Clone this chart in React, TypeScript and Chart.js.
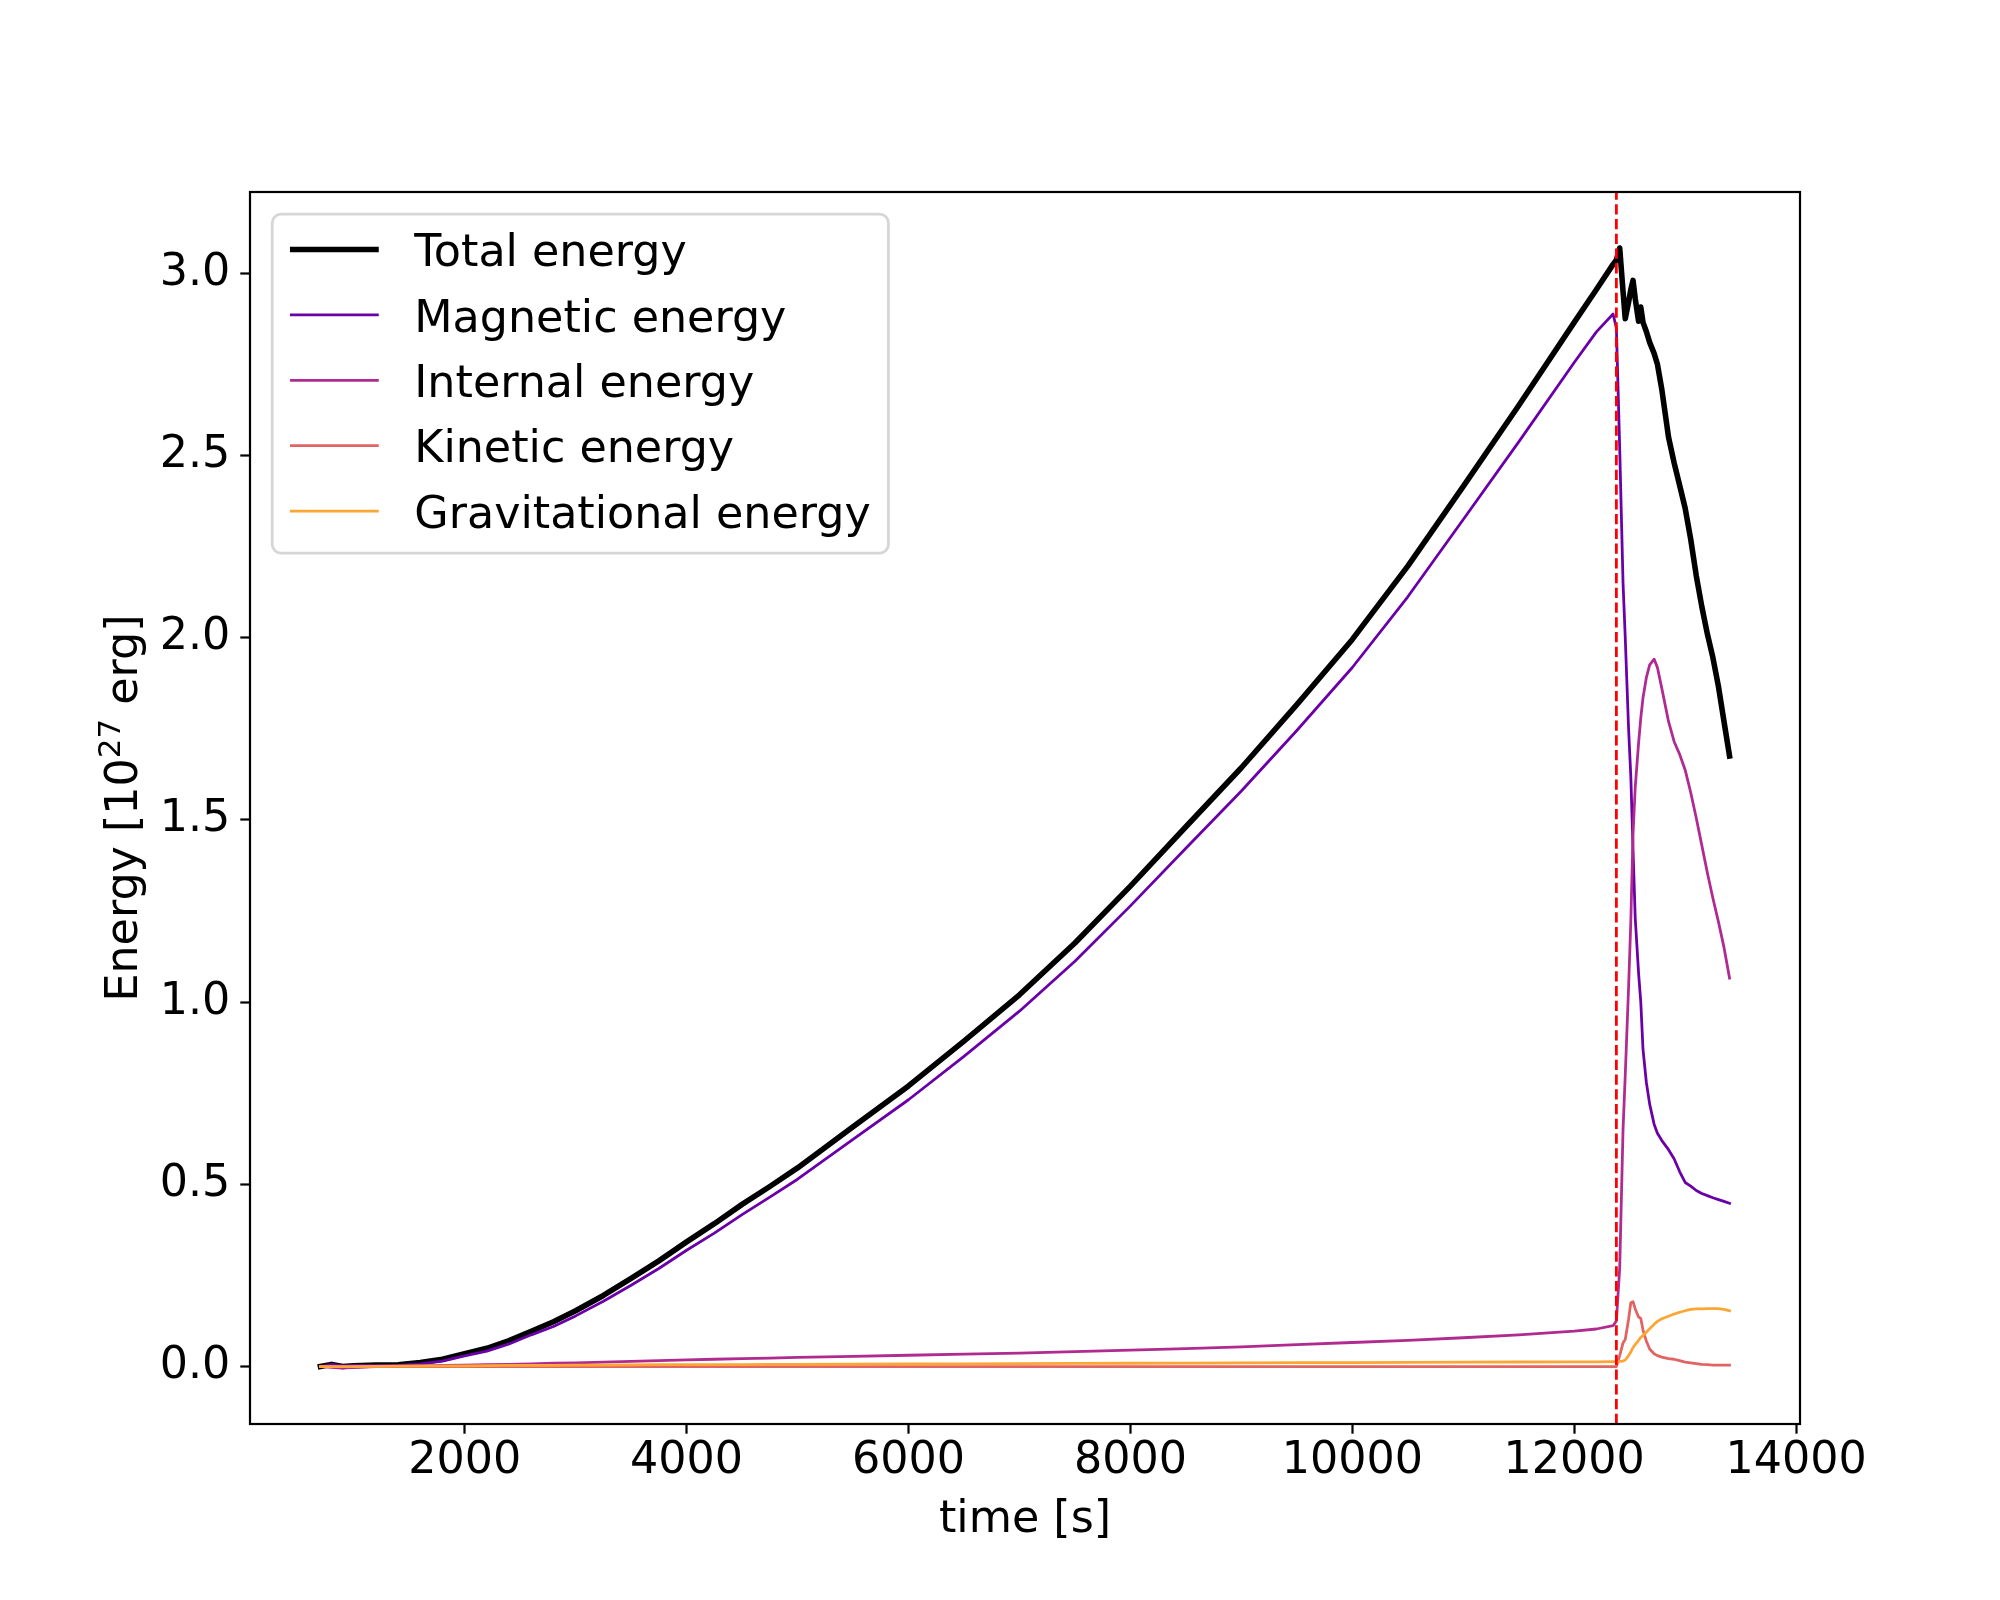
import { useEffect, useRef } from "react";
import { Chart, registerables, Plugin } from "chart.js";

Chart.register(...registerables);

// simulation output times [s]
const TIME = [
  700, 800, 900, 1000, 1200, 1400, 1600, 1800, 2000, 2200, 2400, 2600, 2800,
  3000, 3250, 3500, 3750, 4000, 4250, 4500, 4750, 5000, 5500, 6000, 6500,
  7000, 7500, 8000, 8500, 9000, 9500, 10000, 10500, 11000, 11500, 12000,
  12200, 12350, 12380,
  12410, 12440, 12460, 12490, 12510, 12530, 12550, 12580, 12600, 12620,
  12650, 12680, 12720, 12750, 12790, 12850, 12900, 12950, 13000, 13050,
  13100, 13150, 13200, 13250, 13300, 13350, 13400,
];

// energies in units of 1e27 erg
const TOTAL = [
  0.0, 0.006, 0.0, 0.002, 0.004, 0.005, 0.011, 0.02, 0.035, 0.05, 0.071,
  0.097, 0.123, 0.153, 0.195, 0.242, 0.29, 0.342, 0.392, 0.445, 0.494, 0.545,
  0.658, 0.77, 0.893, 1.02, 1.162, 1.318, 1.481, 1.643, 1.816, 1.995, 2.196,
  2.415, 2.637, 2.865, 2.955, 3.024, 3.036,
  3.069, 2.95, 2.875, 2.92, 2.955, 2.98, 2.93, 2.868, 2.907, 2.865, 2.84,
  2.81, 2.78, 2.75, 2.68, 2.55, 2.48, 2.418, 2.355, 2.27, 2.17, 2.085, 2.01,
  1.945, 1.866, 1.77, 1.675,
];

const MAGNETIC = [
  0.0, 0.006, 0.002, 0.003, 0.0035, 0.003, 0.0075, 0.015, 0.029, 0.0425,
  0.062, 0.087, 0.11, 0.139, 0.179, 0.223, 0.269, 0.319, 0.366, 0.417, 0.465,
  0.514, 0.623, 0.732, 0.851, 0.975, 1.112, 1.264, 1.422, 1.579, 1.745, 1.918,
  2.112, 2.324, 2.537, 2.755, 2.839, 2.888, 2.85,
  2.52, 2.15, 2.0, 1.75, 1.62, 1.42, 1.23, 1.08, 1.0, 0.87, 0.78, 0.72,
  0.665, 0.64, 0.62, 0.595, 0.57, 0.535, 0.505, 0.495, 0.483, 0.475, 0.469,
  0.463, 0.458, 0.453, 0.448,
];

const INTERNAL = [
  0.0, -0.002, -0.004, -0.002, 0.0, 0.001, 0.002, 0.003, 0.004, 0.005, 0.006,
  0.007, 0.009, 0.01, 0.012, 0.014, 0.016, 0.018, 0.02, 0.022, 0.023, 0.025,
  0.028, 0.031, 0.034, 0.037, 0.041, 0.045, 0.049, 0.054, 0.06, 0.066, 0.072,
  0.079, 0.087, 0.097, 0.103, 0.112, 0.125,
  0.27, 0.65, 0.8, 1.04, 1.22, 1.46, 1.59, 1.71, 1.78, 1.835, 1.89, 1.925,
  1.941, 1.918, 1.86, 1.77, 1.715, 1.68, 1.637, 1.575, 1.505, 1.43, 1.355,
  1.285, 1.22, 1.15, 1.066,
];

const KINETIC = [
  0.0, 0.0, 0.0, 0.0, 0.0, 0.0, 0.0, 0.0, 0.0, 0.0, 0.0, 0.0, 0.0, 0.0, 0.0,
  0.0, 0.0, 0.0, 0.0, 0.0, 0.0, 0.0, 0.0, 0.0, 0.0, 0.0, 0.0, 0.0, 0.0, 0.0,
  0.0, 0.0, 0.0, 0.0, 0.0, 0.0, 0.0, 0.0, 0.0,
  0.03, 0.065, 0.074, 0.13, 0.175, 0.178, 0.158, 0.136, 0.132, 0.1, 0.07,
  0.048, 0.035, 0.03, 0.026, 0.022, 0.02, 0.016, 0.012, 0.01, 0.008, 0.006,
  0.005, 0.004, 0.004, 0.004, 0.004,
];

const GRAVITATIONAL = [
  0.0, 0.0, 0.0, 0.0, 0.0005, 0.001, 0.0015, 0.002, 0.002, 0.0025, 0.003,
  0.003, 0.0035, 0.004, 0.004, 0.0045, 0.005, 0.005, 0.0055, 0.0055, 0.006,
  0.006, 0.0065, 0.007, 0.0075, 0.008, 0.0085, 0.009, 0.0095, 0.01, 0.0105,
  0.011, 0.0115, 0.012, 0.0125, 0.013, 0.013, 0.0135, 0.0135,
  0.014, 0.015, 0.018, 0.03, 0.04, 0.052, 0.06, 0.072, 0.08, 0.085, 0.094,
  0.104, 0.116, 0.124, 0.131, 0.138, 0.144, 0.149, 0.153, 0.157, 0.158,
  0.158, 0.159, 0.159, 0.159, 0.157, 0.153,
];

const SERIES_LABELS = [
  "Total energy",
  "Magnetic energy",
  "Internal energy",
  "Kinetic energy",
  "Gravitational energy",
];
const SERIES_COLORS = ["#000000", "#6a00a8", "#b12a90", "#e16462", "#fca636"];
const SERIES_WIDTHS = [5.56, 2.78, 2.78, 2.78, 2.78];

const X_TICKS = [2000, 4000, 6000, 8000, 10000, 12000, 14000];
const Y_TICKS = [0, 0.5, 1.0, 1.5, 2.0, 2.5, 3.0];
const FLARE_TIME = 12380;

const X_TITLE = "time [s]";
const Y_TITLE = ["Energy [10", "27", " erg]"];

const FONT_PX = 44.4;
const SUP_PX = 31;
const FONT_FAMILY = '"DejaVu Sans", sans-serif';

const SERIES = [TOTAL, MAGNETIC, INTERNAL, KINETIC, GRAVITATIONAL];

// autoscale with 5% margins, like matplotlib
const xLo = Math.min(...TIME);
const xHi = Math.max(...TIME);
const X_MIN = xLo - 0.05 * (xHi - xLo);
const X_MAX = xHi + 0.05 * (xHi - xLo);
const allY = SERIES.flat();
const yLo = Math.min(...allY);
const yHi = Math.max(...allY);
const Y_MIN = yLo - 0.05 * (yHi - yLo);
const Y_MAX = yHi + 0.05 * (yHi - yLo);

const framePlugin: Plugin<"line"> = {
  id: "frame",
  afterDatasetsDraw(chart) {
    const { ctx, chartArea: a } = chart;
    ctx.save();
    ctx.strokeStyle = "#000";
    ctx.lineWidth = 2.2;
    ctx.strokeRect(a.left, a.top, a.right - a.left, a.bottom - a.top);
    ctx.restore();
  },
};

const titlesPlugin: Plugin<"line"> = {
  id: "axisTitles",
  afterDraw(chart) {
    const { ctx, chartArea: a } = chart;
    ctx.save();
    ctx.fillStyle = "#000";
    ctx.textBaseline = "alphabetic";
    ctx.font = `${FONT_PX}px ${FONT_FAMILY}`;
    ctx.textAlign = "center";
    ctx.fillText(X_TITLE, (a.left + a.right) / 2, a.bottom + 108);

    // y title with a superscript exponent
    ctx.translate(a.left - 113, (a.top + a.bottom) / 2);
    ctx.rotate(-Math.PI / 2);
    ctx.textAlign = "left";
    const fonts = Y_TITLE.map((_, i) =>
      i === 1 ? `${SUP_PX}px ${FONT_FAMILY}` : `${FONT_PX}px ${FONT_FAMILY}`
    );
    const widths = Y_TITLE.map((t, i) => {
      ctx.font = fonts[i];
      return ctx.measureText(t).width;
    });
    let x = -widths.reduce((s, w) => s + w, 0) / 2;
    Y_TITLE.forEach((t, i) => {
      ctx.font = fonts[i];
      ctx.fillText(t, x, i === 1 ? -17 : 0);
      x += widths[i];
    });
    ctx.restore();
  },
};

const legendPlugin: Plugin<"line"> = {
  id: "legendBox",
  afterDraw(chart) {
    const { ctx, chartArea: a } = chart;
    const pad = 0.4 * FONT_PX;
    const handle = 2 * FONT_PX;
    const gap = 0.8 * FONT_PX;
    const step = 65.4;
    const left = a.left + 0.5 * FONT_PX;
    const top = a.top + 0.5 * FONT_PX;
    ctx.save();
    ctx.font = `${FONT_PX}px ${FONT_FAMILY}`;
    const textW = Math.max(...SERIES_LABELS.map((l) => ctx.measureText(l).width));
    const w = pad + handle + gap + textW + pad;
    const h = 339;

    ctx.beginPath();
    ctx.roundRect(left, top, w, h, 0.2 * FONT_PX);
    ctx.fillStyle = "rgba(255,255,255,0.8)";
    ctx.fill();
    ctx.strokeStyle = "rgba(204,204,204,0.8)";
    ctx.lineWidth = 2.78;
    ctx.stroke();

    SERIES_LABELS.forEach((label, i) => {
      const yLine = top + 35.3 + i * step;
      ctx.beginPath();
      ctx.moveTo(left + pad, yLine);
      ctx.lineTo(left + pad + handle, yLine);
      ctx.strokeStyle = SERIES_COLORS[i];
      ctx.lineWidth = SERIES_WIDTHS[i];
      ctx.lineCap = "butt";
      ctx.stroke();
      ctx.fillStyle = "#000";
      ctx.textAlign = "left";
      ctx.textBaseline = "alphabetic";
      ctx.fillText(label, left + pad + handle + gap, top + 52 + i * step);
    });
    ctx.restore();
  },
};

const tickFont = { family: FONT_FAMILY, size: FONT_PX };

export default function App() {
  const canvasRef = useRef<HTMLCanvasElement | null>(null);
  const chartRef = useRef<Chart<"line"> | null>(null);

  useEffect(() => {
    document.body.style.margin = "0";
    if (!canvasRef.current) return;
    if (chartRef.current) chartRef.current.destroy();

    const datasets: any[] = SERIES.map((values, i) => ({
      label: SERIES_LABELS[i],
      data: TIME.map((t, j) => ({ x: t, y: values[j] })),
      borderColor: SERIES_COLORS[i],
      borderWidth: SERIES_WIDTHS[i],
      borderJoinStyle: "round",
      borderCapStyle: "square",
      pointRadius: 0,
      tension: 0,
      fill: false,
      order: SERIES.length - i,
    }));
    datasets.push({
      label: "flare",
      data: [
        { x: FLARE_TIME, y: Y_MIN },
        { x: FLARE_TIME, y: Y_MAX },
      ],
      borderColor: "#ff0000",
      borderWidth: 2.78,
      borderDash: [10.3, 4.45],
      borderCapStyle: "butt",
      pointRadius: 0,
      fill: false,
      order: 0,
    });

    chartRef.current = new Chart(canvasRef.current, {
      type: "line",
      data: { datasets },
      options: {
        responsive: false,
        animation: false,
        layout: { padding: { left: 0, right: 200, top: 192, bottom: 0 } },
        plugins: {
          legend: { display: false },
          tooltip: { enabled: false },
        },
        scales: {
          x: {
            type: "linear",
            min: X_MIN,
            max: X_MAX,
            afterBuildTicks: (scale) => {
              scale.ticks = X_TICKS.map((v) => ({ value: v }));
            },
            afterFit: (scale) => {
              scale.height = 176;
            },
            ticks: {
              callback: (v) => String(v),
              font: tickFont,
              color: "#000",
              padding: 1,
              maxRotation: 0,
              autoSkip: false,
            },
            grid: {
              display: true,
              drawOnChartArea: false,
              drawTicks: true,
              tickLength: 9.7,
              tickWidth: 2.2,
              tickColor: "#000",
            },
            border: { display: false },
          },
          y: {
            type: "linear",
            min: Y_MIN,
            max: Y_MAX,
            afterBuildTicks: (scale) => {
              scale.ticks = Y_TICKS.map((v) => ({ value: v }));
            },
            afterFit: (scale) => {
              scale.width = 250;
            },
            ticks: {
              callback: (v) => Number(v).toFixed(1),
              font: tickFont,
              color: "#000",
              padding: 10,
              autoSkip: false,
            },
            grid: {
              display: true,
              drawOnChartArea: false,
              drawTicks: true,
              tickLength: 9.7,
              tickWidth: 2.2,
              tickColor: "#000",
            },
            border: { display: false },
          },
        },
      },
      plugins: [framePlugin, titlesPlugin, legendPlugin],
    });

    return () => {
      if (chartRef.current) {
        chartRef.current.destroy();
        chartRef.current = null;
      }
    };
  }, []);

  return (
    <div style={{ width: 2000, height: 1600, background: "#fff" }}>
      <canvas ref={canvasRef} width={2000} height={1600} />
    </div>
  );
}
